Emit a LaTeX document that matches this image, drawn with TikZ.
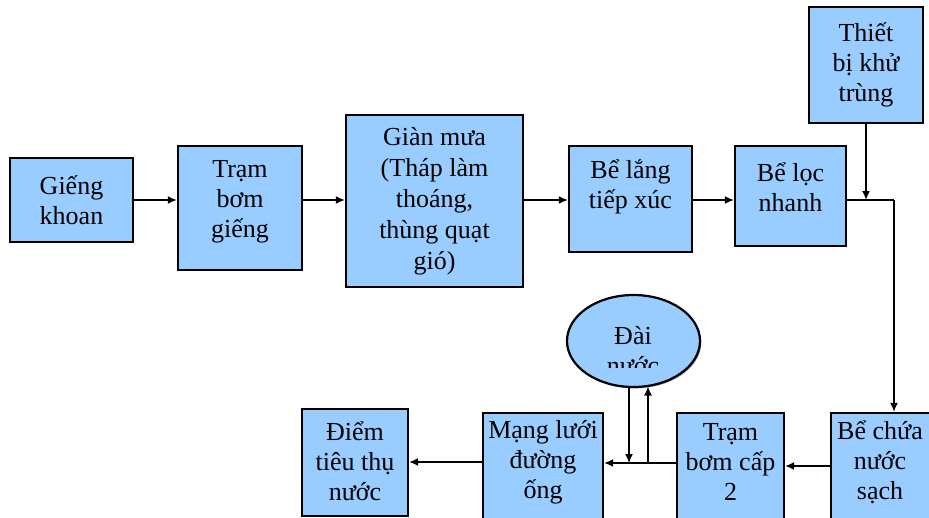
\documentclass[tikz,border=0pt]{standalone}
\usepackage{fontspec}
\setmainfont{Liberation Serif}
\usetikzlibrary{arrows.meta,shapes.geometric,shadows}
\definecolor{boxblue}{HTML}{99CCFF}
\tikzset{
  box/.style={draw=black, line width=2.2pt, fill=boxblue, rectangle, inner sep=0pt,
    drop shadow={shadow xshift=1.3pt, shadow yshift=-1.3pt, fill=black!55, opacity=0.8}},
  txt/.style={align=center, font=\fontsize{26}{30}\selectfont, inner sep=0pt},
  conn/.style={line width=1.6pt, -{Latex[length=9pt,width=8pt]}},
  plain/.style={line width=1.6pt}
}
\begin{document}
\begin{tikzpicture}[x=1pt,y=-1pt]
\useasboundingbox (0,0) rectangle (929,517);
\clip (0,0) rectangle (929,517);
% top row
\node[box, minimum width=123pt, minimum height=84pt] (gk) at (71.5,200) {};
\node[txt] (gkt) at (gk.center) {Giếng\\khoan};
\node[box, minimum width=124pt, minimum height=124pt] (tbg) at (240,208) {};
\node[txt] (tbgt) at (240,202) {Trạm\\bơm\\giếng};
\node[box, minimum width=177pt, minimum height=172pt] (gm) at (434.5,201) {};
\node[txt, font=\fontsize{26}{31}\selectfont] (gmt) at (434.5,201) {Giàn mưa\\(Tháp làm\\thoáng,\\thùng quạt\\gió)};
\node[box, minimum width=123pt, minimum height=106pt] (bl) at (630.5,199) {};
\node[txt] (blt) at (630.5,187) {Bể lắng\\tiếp xúc};
\node[box, minimum width=111pt, minimum height=100pt] (bloc) at (790.5,196) {};
\node[txt] (bloct) at (790.5,187) {Bể lọc\\nhanh};
\node[box, minimum width=114pt, minimum height=116pt] (kt) at (866,65) {};
\node[txt] (ktt) at (866,65) {Thiết\\bị khử\\trùng};
% bottom row
\node[box, minimum width=110pt, minimum height=130pt] (bc) at (886,478) {};
\node[txt] (bct) at (880,462) {Bể chứa\\nước\\sạch};
\node[box, minimum width=107pt, minimum height=130pt] (tb2) at (730.5,478) {};
\node[txt] (tb2t) at (730.5,462) {Trạm\\bơm cấp\\2};
\node[box, minimum width=120pt, minimum height=130pt] (ml) at (543,478) {};
\node[txt] (mlt) at (543,462) {Mạng lưới\\đường\\ống};
\node[box, minimum width=106pt, minimum height=107pt] (dt) at (355,462.5) {};
\node[txt] (dtt) at (355,461) {Điểm\\tiêu thụ\\nước};
% water tower
\node[box, ellipse, minimum width=133pt, minimum height=92pt] (dn) at (633.5,341) {};
\begin{scope}
\clip (560,290) rectangle (710,367);
\node[txt] (dnt) at (633,351) {Đài\\nước};
\end{scope}
% connectors top
\draw[conn] (gk.east |- 0,200) -- (tbg.west |- 0,200);
\draw[conn] (tbg.east |- 0,200) -- (gm.west |- 0,200);
\draw[conn] (gm.east |- 0,200) -- (bl.west |- 0,200);
\draw[conn] (bl.east |- 0,200) -- (bloc.west |- 0,200);
\coordinate (j1) at (866,200);
\coordinate (j2) at (894,200);
\draw[conn] (kt.south) -- (j1);
\draw[plain] (bloc.east |- 0,200) -- (j2);
\draw[conn] (j2) -- (j2 |- bc.north);
% connectors bottom
\draw[conn] (bc.west |- 0,466) -- (tb2.east |- 0,466);
\coordinate (j3) at (629,463);
\coordinate (j4) at (648,463);
\draw[conn] (tb2.west |- 0,463) -- (ml.east |- 0,463);
\draw[conn] (629,387) -- (j3);
\draw[conn] (j4) -- (648,386.5);
\draw[conn] (ml.west |- 0,462) -- (dt.east |- 0,462);
\end{tikzpicture}
\end{document}
